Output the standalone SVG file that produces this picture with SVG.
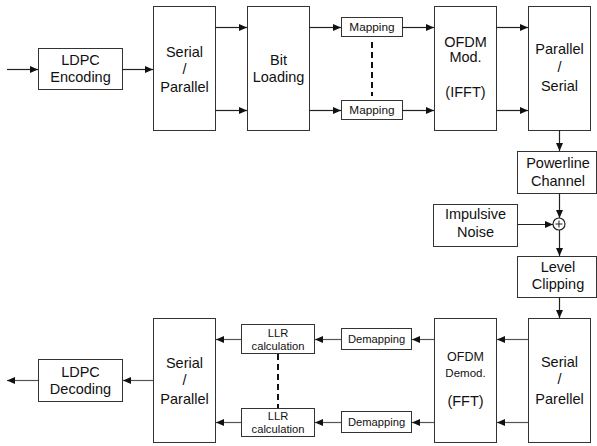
<svg xmlns="http://www.w3.org/2000/svg" width="597" height="446" viewBox="0 0 597 446">
<defs>
<marker id="ah" markerUnits="userSpaceOnUse" markerWidth="9" markerHeight="8" refX="8" refY="3.5" orient="auto">
<path d="M0,0 L8,3.5 L0,7 z" fill="#111"/>
</marker>
<style>
rect{fill:#fff;stroke:#333;stroke-width:1}
text{font-family:"Liberation Sans",Arial,sans-serif;font-size:14.5px;fill:#111;text-anchor:middle}
.s{font-size:11.8px}
.xs{font-size:11.2px}
.c line,.c path{stroke:#222;stroke-width:1.2;fill:none;marker-end:url(#ah)}
.c .g{stroke:#555}
.c .d{stroke:#111;stroke-width:2;stroke-dasharray:6,4;fill:none;marker-end:none}
</style>
</defs>
<rect x="0" y="0" width="597" height="446" style="fill:#fff;stroke:none"/>

<g id="ldpc-enc"><rect x="38.5" y="48.5" width="84" height="41"/><text x="80.5" y="65">LDPC</text><text x="80.5" y="82">Encoding</text></g>
<g id="sp-top"><rect x="153.5" y="6.5" width="62" height="124"/><text x="184.5" y="57">Serial</text><text x="184.5" y="74">/</text><text x="184.5" y="91.5">Parallel</text></g>
<g id="bit-loading"><rect x="247.5" y="6.5" width="62" height="124"/><text x="278.5" y="65">Bit</text><text x="278.5" y="82">Loading</text></g>
<g id="mapping1"><rect x="341.5" y="17.5" width="61" height="19"/><text class="s" x="372" y="31">Mapping</text></g>
<g id="mapping2"><rect x="341.5" y="100.5" width="61" height="19"/><text class="s" x="372" y="114">Mapping</text></g>
<g id="ofdm-mod"><rect x="434.5" y="6.5" width="62" height="124"/><text x="465.5" y="47">OFDM</text><text x="465.5" y="62">Mod.</text><text x="465.5" y="97">(IFFT)</text></g>
<g id="ps-top"><rect x="528.5" y="6.5" width="62" height="124"/><text x="559.5" y="53.5">Parallel</text><text x="559.5" y="72">/</text><text x="559.5" y="90.5">Serial</text></g>
<g id="powerline"><rect x="517.5" y="151.5" width="79" height="42"/><text x="558" y="168">Powerline</text><text x="558" y="186">Channel</text></g>
<g id="impulsive"><rect x="433.5" y="204.5" width="84" height="42"/><text x="475.5" y="219">Impulsive</text><text x="475.5" y="237">Noise</text></g>
<g id="adder"><circle cx="559" cy="224" r="6" fill="#fff" stroke="#222" stroke-width="1.2"/><path d="M559,220.5 V227.5 M555.5,224 H562.5" stroke="#222" stroke-width="1"/></g>
<g id="level-clipping"><rect x="517.5" y="256.5" width="79" height="41"/><text x="558" y="272">Level</text><text x="558" y="289">Clipping</text></g>
<g id="sp-bottom-right"><rect x="528.5" y="318.5" width="62" height="124"/><text x="559.5" y="367">Serial</text><text x="559.5" y="384">/</text><text x="559.5" y="404">Parellel</text></g>
<g id="ofdm-demod"><rect x="434.5" y="318.5" width="62" height="124"/><text x="465.5" y="361" style="font-size:12.5px">OFDM</text><text x="465.5" y="377" style="font-size:11.5px">Demod.</text><text x="465.5" y="406">(FFT)</text></g>
<g id="demapping1"><rect x="341.5" y="328.5" width="70" height="21"/><text class="xs" x="376.5" y="343">Demapping</text></g>
<g id="demapping2"><rect x="341.5" y="411.5" width="70" height="21"/><text class="xs" x="376.5" y="426">Demapping</text></g>
<g id="llr1"><rect x="241.5" y="324.5" width="73" height="29"/><text class="xs" x="278" y="337">LLR</text><text class="xs" x="278" y="349.5">calculation</text></g>
<g id="llr2"><rect x="241.5" y="408.5" width="73" height="28"/><text class="xs" x="278" y="420">LLR</text><text class="xs" x="278" y="432.5">calculation</text></g>
<g id="sp-bottom-left"><rect x="153.5" y="318.5" width="62" height="124"/><text x="184.5" y="368">Serial</text><text x="184.5" y="385">/</text><text x="184.5" y="404">Parallel</text></g>
<g id="ldpc-dec"><rect x="38.5" y="359.5" width="84" height="42"/><text x="80.5" y="377">LDPC</text><text x="80.5" y="394">Decoding</text></g>

<g id="connectors" class="c">
<line x1="7" y1="69.5" x2="38" y2="69.5"/>
<line x1="122" y1="69.5" x2="153" y2="69.5"/>
<line x1="215" y1="27.5" x2="247" y2="27.5"/>
<line x1="215" y1="110.5" x2="247" y2="110.5"/>
<line x1="309" y1="27.5" x2="341" y2="27.5"/>
<line x1="309" y1="110.5" x2="341" y2="110.5"/>
<line x1="402" y1="27.5" x2="434" y2="27.5"/>
<line x1="402" y1="110.5" x2="434" y2="110.5"/>
<line x1="496" y1="27.5" x2="528" y2="27.5"/>
<line x1="496" y1="110.5" x2="528" y2="110.5"/>
<line x1="559.5" y1="130" x2="559.5" y2="151"/>
<line x1="559.5" y1="193" x2="559.5" y2="218"/>
<line x1="517" y1="224.5" x2="553" y2="224.5"/>
<line x1="559.5" y1="230" x2="559.5" y2="256"/>
<line x1="559.5" y1="297" x2="559.5" y2="318"/>
<line class="g" x1="528" y1="339.5" x2="497" y2="339.5"/>
<line class="g" x1="528" y1="422.5" x2="497" y2="422.5"/>
<line class="g" x1="434" y1="339.5" x2="412" y2="339.5"/>
<line class="g" x1="434" y1="422.5" x2="412" y2="422.5"/>
<line class="g" x1="341" y1="339.5" x2="315" y2="339.5"/>
<line class="g" x1="341" y1="422.5" x2="315" y2="422.5"/>
<line class="g" x1="241" y1="339.5" x2="216" y2="339.5"/>
<line class="g" x1="241" y1="422.5" x2="216" y2="422.5"/>
<line class="g" x1="153" y1="380.5" x2="123" y2="380.5"/>
<line class="g" x1="38" y1="380.5" x2="7" y2="380.5"/>
<path class="d" d="M372,42 V96"/>
<path class="d" d="M278,354 V408"/>
</g>
</svg>
